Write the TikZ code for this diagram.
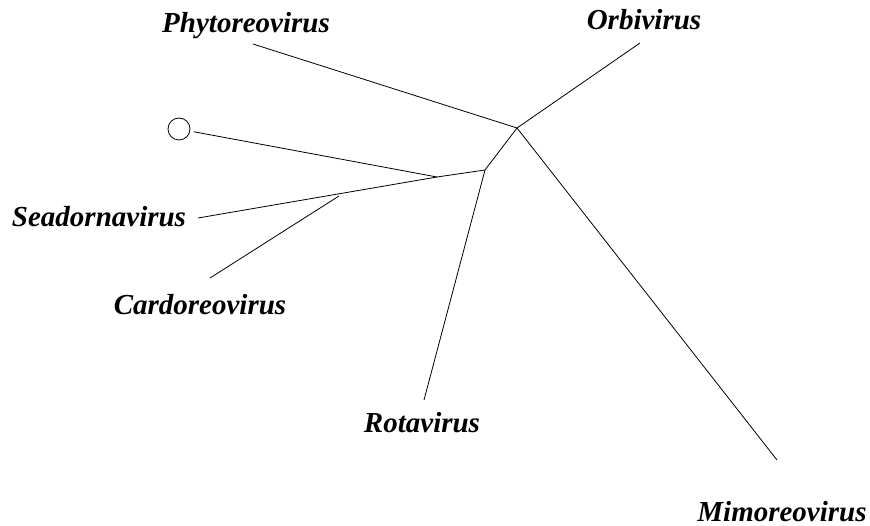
\documentclass[tikz,border=0pt]{standalone}
\usepackage{fontspec}
\setmainfont{Liberation Serif}
\pgfdeclarelayer{edgelayer}
\pgfdeclarelayer{nodelayer}
\pgfsetlayers{edgelayer,nodelayer,main}
\tikzstyle{none}=[inner sep=0pt]
\tikzstyle{taxon}=[inner sep=0pt,anchor=base,font=\fontsize{29}{32}\selectfont\bfseries\itshape]
\tikzstyle{outgroup}=[circle,draw=black,line width=0.8pt,minimum size=22pt,inner sep=0pt,outer sep=4pt]
\tikzstyle{simple}=[-,draw=black,line width=0.8pt]
\begin{document}
\begin{tikzpicture}[x=1pt,y=-1pt]
	\useasboundingbox (0,0) rectangle (870,526);
	\begin{pgfonlayer}{nodelayer}
		\node [style=none] (0) at (517, 128) {};
		\node [style=none] (1) at (485, 170) {};
		\node [style=none] (2) at (437, 177) {};
		\node [style=none] (3) at (339, 196) {};
		\node [style=none] (4) at (253, 44) {};
		\node [style=none] (5) at (640, 43) {};
		\node [style=none] (6) at (777, 460) {};
		\node [style=none] (7) at (424, 400) {};
		\node [style=none] (8) at (198, 218) {};
		\node [style=none] (9) at (210, 278) {};
		\node [style=outgroup] (10) at (179, 129) {};
		\node [style=taxon] (11) at (246, 33) {Phytoreovirus};
		\node [style=taxon] (12) at (644, 30) {Orbivirus};
		\node [style=taxon] (13) at (99, 227) {Seadornavirus};
		\node [style=taxon] (14) at (200, 315) {Cardoreovirus};
		\node [style=taxon] (15) at (422, 432) {Rotavirus};
		\node [style=taxon] (16) at (782, 521) {Mimoreovirus};
	\end{pgfonlayer}
	\begin{pgfonlayer}{edgelayer}
		\draw [style=simple] (4.center) to (0.center);
		\draw [style=simple] (0.center) to (5.center);
		\draw [style=simple] (0.center) to (6.center);
		\draw [style=simple] (0.center) to (1.center);
		\draw [style=simple] (1.center) to (7.center);
		\draw [style=simple] (1.center) to (2.center);
		\draw [style=simple] (10) to (2.center);
		\draw [style=simple] (2.center) to (8.center);
		\draw [style=simple] (3.center) to (9.center);
	\end{pgfonlayer}
\end{tikzpicture}
\end{document}
